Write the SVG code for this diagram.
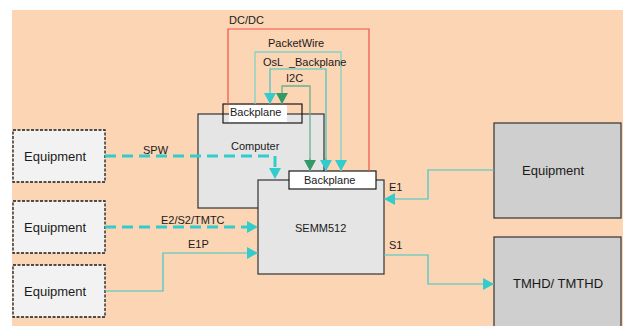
<svg xmlns="http://www.w3.org/2000/svg" width="628" height="326" viewBox="0 0 628 326">
<defs>
<style>
text{font-family:"Liberation Sans",Arial,sans-serif;font-size:11px;fill:#1a1a1a}
.big{font-size:13px}
.eqd{fill:#f2f2f2;stroke:#1a1a1a;stroke-width:1.3;stroke-dasharray:3,1.5}
.box{fill:#e5e5e5;stroke:#333;stroke-width:1.2}
.gbox{fill:#cfcfcf;stroke:#333;stroke-width:1.2}
.c{fill:none;stroke:#3cc8c8;stroke-width:1.2}
.cd{fill:none;stroke:#33cccc;stroke-width:3;stroke-dasharray:11,6}
.pw{fill:none;stroke:#7fd3c8;stroke-width:1.3}
.g{fill:none;stroke:#66b38c;stroke-width:1.3}
.r{fill:none;stroke:#f0504a;stroke-width:1.2}
</style>
<marker id="ac" viewBox="0 0 11 12" refX="11" refY="6" markerWidth="11" markerHeight="12" markerUnits="userSpaceOnUse" orient="auto"><path d="M0,0 L11,6 L0,12 z" fill="#33cccc"/></marker>
<marker id="ag" viewBox="0 0 11 12" refX="11" refY="6" markerWidth="11" markerHeight="12" markerUnits="userSpaceOnUse" orient="auto"><path d="M0,0 L11,6 L0,12 z" fill="#339966"/></marker>
</defs>
<rect x="0" y="0" width="628" height="326" fill="#ffffff"/>
<rect x="12" y="10" width="611" height="316" fill="#fcd5b4"/>

<g id="computer">
<rect class="box" x="198" y="114" width="126" height="94"/>
<text x="231" y="150">Computer</text>
</g>
<g id="computer-backplane">
<rect x="229" y="105" width="58" height="17" fill="#ffffff"/>
<rect x="223" y="104" width="79" height="19" fill="none" stroke="#1a1a1a" stroke-width="1.2"/>
<text x="230" y="116">Backplane</text>
</g>
<g id="semm512">
<rect class="box" x="258" y="180" width="126" height="94"/>
<text x="295" y="232">SEMM512</text>
</g>
<g id="semm-backplane">
<rect x="289" y="171" width="87" height="18" fill="#ffffff" stroke="#1a1a1a" stroke-width="1.2"/>
<text x="304" y="184">Backplane</text>
</g>

<g id="equipment-1">
<rect class="eqd" x="13" y="130" width="92" height="52"/>
<text class="big" x="24" y="161">Equipment</text>
</g>
<g id="equipment-2">
<rect class="eqd" x="13" y="201" width="92" height="52"/>
<text class="big" x="24" y="232">Equipment</text>
</g>
<g id="equipment-3">
<rect class="eqd" x="13" y="265" width="92" height="52"/>
<text class="big" x="24" y="296">Equipment</text>
</g>
<g id="equipment-right">
<rect class="gbox" x="494" y="123" width="127" height="95"/>
<text class="big" x="522" y="175">Equipment</text>
</g>
<g id="tmhd">
<rect class="gbox" x="494" y="237" width="127" height="95"/>
<text class="big" x="513" y="288">TMHD/ TMTHD</text>
</g>

<g id="connectors">
<path class="r" d="M228,104 V29 H369 V171"/>
<text x="229" y="24">DC/DC</text>
<path class="pw" d="M255,104 V52 H341 V171" marker-end="url(#ac)"/>
<text x="268" y="47">PacketWire</text>
<path class="c" d="M326,171 V69 H270 V104" marker-end="url(#ac)"/>
<path class="c" d="M326,158 V171" marker-end="url(#ac)"/>
<text x="263" y="66" xml:space="preserve" style="white-space:pre">OsL  _Backplane</text>
<path class="g" d="M310,171 V86 H282 V104" marker-end="url(#ag)"/>
<path class="g" d="M310,158 V171" marker-end="url(#ag)"/>
<text x="286" y="82">I2C</text>
<path class="cd" d="M105,156 H275 V168"/>
<path d="M269,168 L275,179 L281,168 z" fill="#33cccc"/>
<text x="143" y="154">SPW</text>
<path class="cd" d="M105,227 H247"/>
<path d="M247,221 L258,227 L247,233 z" fill="#33cccc"/>
<text x="161" y="224">E2/S2/TMTC</text>
<path class="c" d="M105,291 H163 V253 H258" marker-end="url(#ac)"/>
<text x="188" y="248">E1P</text>
<path class="c" d="M494,170 H428 V199 H384" marker-end="url(#ac)"/>
<text x="389" y="191">E1</text>
<path class="c" d="M384,255 H428 V284 H494" marker-end="url(#ac)"/>
<text x="389" y="249">S1</text>
</g>
</svg>
